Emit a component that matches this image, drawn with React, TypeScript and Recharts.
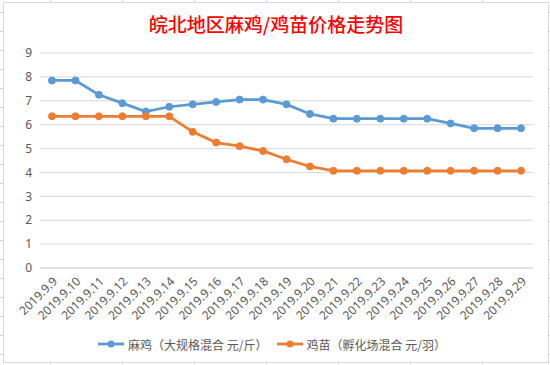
import React from 'react';
import { LineChart, Line, XAxis, YAxis, CartesianGrid, Legend } from 'recharts';

const dates = [
  '2019.9.9', '2019.9.10', '2019.9.11', '2019.9.12', '2019.9.13', '2019.9.14', '2019.9.15',
  '2019.9.16', '2019.9.17', '2019.9.18', '2019.9.19', '2019.9.20', '2019.9.21', '2019.9.22',
  '2019.9.23', '2019.9.24', '2019.9.25', '2019.9.26', '2019.9.27', '2019.9.28', '2019.9.29',
];
const majiPrice = [
  7.85, 7.85, 7.25, 6.9, 6.55, 6.75, 6.85, 6.95, 7.05, 7.05, 6.85,
  6.45, 6.25, 6.25, 6.25, 6.25, 6.25, 6.05, 5.85, 5.85, 5.85,
];
const jimiaoPrice = [
  6.35, 6.35, 6.35, 6.35, 6.35, 6.35, 5.7, 5.25, 5.1, 4.9, 4.55,
  4.25, 4.07, 4.07, 4.07, 4.07, 4.07, 4.07, 4.07, 4.07, 4.07,
];
const yTicks = [0, 1, 2, 3, 4, 5, 6, 7, 8, 9];

const MAJI = '麻鸡（大规格混合 元/斤）';
const JIMIAO = '鸡苗（孵化场混合 元/羽）';
const BLUE = '#5B9BD5';
const ORANGE = '#ED7D31';
const FONT = '"Noto Sans", "Noto Sans CJK SC", sans-serif';

const data = dates.map((d, i) => ({ date: d, maji: majiPrice[i], jimiao: jimiaoPrice[i] }));

const legendItems = [
  { name: MAJI, color: BLUE },
  { name: JIMIAO, color: ORANGE },
];

function LegendContent() {
  return (
    <div style={{ display: 'flex', justifyContent: 'center', alignItems: 'center', height: 20, fontFamily: '"Noto Sans CJK SC", sans-serif', fontSize: 12, color: '#595959' }}>
      {legendItems.map(item => (
        <div key={item.name} style={{ display: 'flex', alignItems: 'center', margin: '0 4px' }}>
          <svg width={28} height={10} style={{ marginRight: 3 }}>
            <line x1={1} y1={5} x2={27} y2={5} stroke={item.color} strokeWidth={2.75} />
            <circle cx={14} cy={5} r={3.5} fill={item.color} />
          </svg>
          <span>{item.name}</span>
        </div>
      ))}
    </div>
  );
}

export default function App() {
  return (
    <div style={{
      position: 'fixed', left: 0, top: 0, width: 550, height: 365, background: '#fff',
      backgroundImage: 'repeating-linear-gradient(to right, transparent 0 50px, #d4d4d4 50px 51px, transparent 51px 72px), repeating-linear-gradient(to bottom, transparent 0 12px, #d4d4d4 12px 13px, transparent 13px 19px)',
    }}>
      <div style={{ position: 'absolute', left: 3, top: 2, width: 544, height: 359, background: '#fff', border: '1px solid #d9d9d9' }}>
        <div style={{ position: 'absolute', left: 0, top: 8, width: 544, textAlign: 'center', fontFamily: '"Noto Sans CJK SC", sans-serif', fontSize: 19, fontWeight: 500, color: '#FF0000', lineHeight: '26px' }}>
          皖北地区麻鸡/鸡苗价格走势图
        </div>
        <LineChart width={544} height={359} data={data} margin={{ top: 50, right: 15, left: 6, bottom: 14 }}>
          <CartesianGrid vertical={false} stroke="#d9d9d9" />
          <XAxis
            dataKey="date"
            interval={0}
            angle={-45}
            textAnchor="end"
            height={60}
            padding={{ left: 12, right: 12 }}
            tickLine={false}
            axisLine={{ stroke: '#d9d9d9' }}
            tick={{ fill: '#595959', fontSize: 12, fontFamily: FONT }}
          />
          <YAxis
            domain={[0, 9]}
            ticks={yTicks}
            width={30}
            tickLine={false}
            axisLine={false}
            tick={{ fill: '#595959', fontSize: 12, fontFamily: FONT }}
          />
          <Legend verticalAlign="bottom" content={<LegendContent />} wrapperStyle={{ bottom: 8 }} />
          <Line name={MAJI} dataKey="maji" stroke={BLUE} strokeWidth={2.75} dot={{ r: 3.5, fill: BLUE, stroke: BLUE, strokeWidth: 1 }} isAnimationActive={false} />
          <Line name={JIMIAO} dataKey="jimiao" stroke={ORANGE} strokeWidth={2.75} dot={{ r: 3.5, fill: ORANGE, stroke: ORANGE, strokeWidth: 1 }} isAnimationActive={false} />
        </LineChart>
      </div>
    </div>
  );
}
